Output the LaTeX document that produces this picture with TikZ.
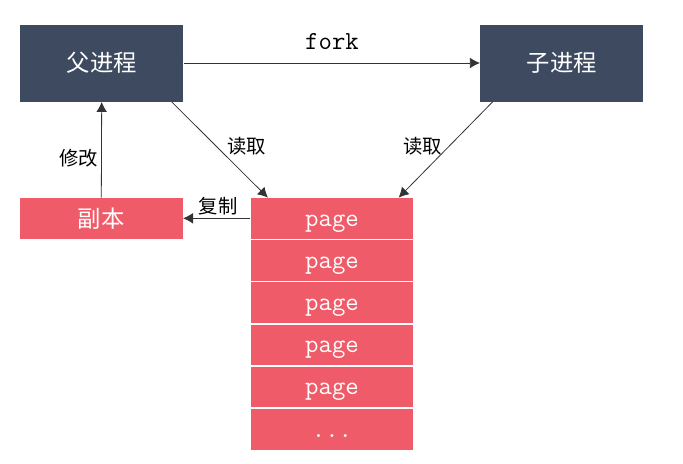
\documentclass[tikz,border=0pt]{standalone}
\usepackage{fontspec}
\setmainfont{Noto Sans CJK SC}
\usetikzlibrary{arrows.meta}

\definecolor{procdark}{HTML}{3E4A5F}
\definecolor{pagered}{HTML}{F05B69}

\tikzset{every picture/.style={line width=0.6pt}}
\tikzset{
	proc/.style={fill=procdark, text=white, minimum width=122.25pt, minimum height=57.75pt, inner sep=0pt, font=\fontsize{17.5}{20}\selectfont},
	cell/.style={fill=pagered, text=white, minimum width=122pt, minimum height=30.4pt, inner sep=0pt},
	arr/.style={draw=black!80, -{Latex[length=7.5pt,width=8pt]}},
	lbl/.style={inner sep=0.75pt, font=\fontsize{14.5}{16}\selectfont},
	mono/.style={font=\ttfamily\fontsize{19.5}{22}\selectfont},
	pagecell/.style={cell, mono, text height=11.6pt, text depth=0pt}
}

\begin{document}
\begin{tikzpicture}[x=0.75pt,y=0.75pt,yscale=-1,xscale=1]
	\useasboundingbox (0,0) rectangle (683,464);
	
	%Shape: Rectangle [parent]
	\node [proc] (parent) at (101.7,63) {父进程};
	%Shape: Rectangle [child]
	\node [proc] (child) at (561.8,63) {子进程};
	%Shape: Rectangle [copy]
	\node [cell, font=\fontsize{17.5}{20}\selectfont] (copy) at (101.3,218.3) {副本};
	%Shape: Page stack
	\foreach \i in {1,...,5}
		\node [pagecell] (page\i) at (332,218.3+42.2*\i-42.2) {page};
	\node [pagecell] (pagedots) at (332,429.3) {...};
	
	%Straight Lines [fork]
	\draw [arr] (parent) -- (child);
	%Straight Lines [parent reads]
	\draw [arr] ([xshift=-8.9pt]parent.south east) -- ([xshift=13.2pt]page1.north west);
	%Straight Lines [child reads]
	\draw [arr] ([xshift=9.5pt]child.south west) -- ([xshift=-11.3pt]page1.north east);
	%Straight Lines [copy]
	\draw [arr] (page1.west) -- (copy.east);
	%Straight Lines [modify]
	\draw [arr] (copy.north) -- (parent.south);
	
	% Text Node
	\node [mono, inner sep=0.75pt] (forklbl) at (332,42) {fork};
	% Text Node
	\node [lbl] (readl) at (246.7,146.7) {读取};
	% Text Node
	\node [lbl] (readr) at (422.7,146.7) {读取};
	% Text Node
	\node [lbl] (copylbl) at (218.3,206.5) {复制};
	% Text Node
	\node [lbl] (modlbl) at (79,158.3) {修改};
	
\end{tikzpicture}
\end{document}
